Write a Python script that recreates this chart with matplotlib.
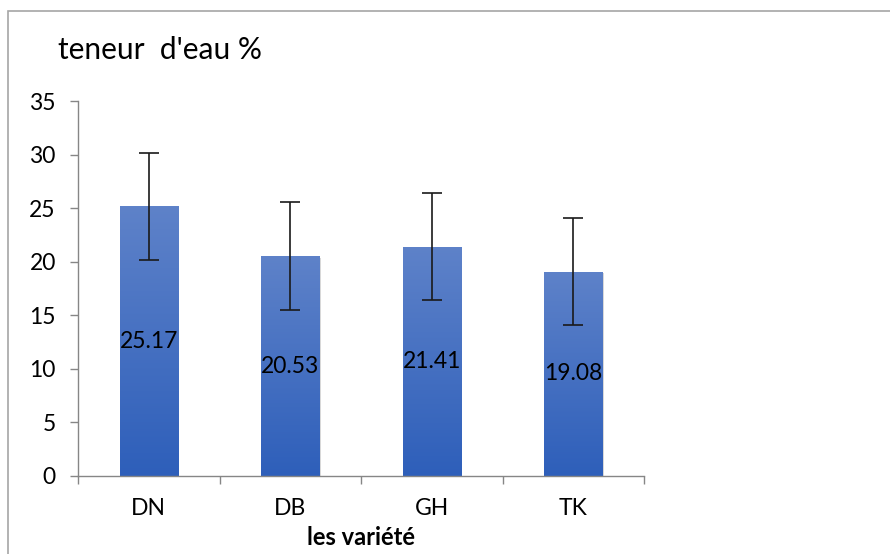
import numpy as np
import matplotlib
matplotlib.use("Agg")
import matplotlib.pyplot as plt
from matplotlib.patches import Rectangle

plt.rcParams['font.family'] = ['Lato', 'DejaVu Sans']

# --- data
varietes = ["DN", "DB", "GH", "TK"]
teneur = [25.17, 20.53, 21.41, 19.08]
erreur = [5, 5, 5, 5]

fig = plt.figure(figsize=(8.9, 5.54), dpi=100)
ax = fig.add_axes([78/890, 78/554, (644-78)/890, (476-101)/554])

x = np.arange(len(varietes))
width = 0.41
bars = ax.bar(x, teneur, width=width, color="none", edgecolor="none", zorder=2)

# gradient fill for each bar (lighter at top, darker at bottom)
grad = np.linspace(0, 1, 256).reshape(-1, 1)
cmap = matplotlib.colors.LinearSegmentedColormap.from_list(
    "bleu", ["#2E5FBA", "#5E82C9"])
for b in bars:
    x0, w, h = b.get_x(), b.get_width(), b.get_height()
    # soft shadow
    ax.add_patch(Rectangle((x0 + 0.012, -0.15), w, h, facecolor="#bfbfbf",
                           edgecolor="none", alpha=0.6, zorder=1))
    im = ax.imshow(grad, extent=[x0, x0 + w, 0, h], origin="lower",
                   cmap=cmap, aspect="auto", zorder=2)
    im.set_clip_path(b)

ax.errorbar(x, teneur, yerr=erreur, fmt="none", ecolor="#1a1a1a",
            elinewidth=1.2, capsize=7, capthick=1.2, zorder=3)

for xi, v in zip(x, teneur):
    ax.text(xi, v / 2, f"{v:.2f}", ha="center", va="center",
            fontsize=16.5, color="black", zorder=4)

ax.set_xlim(-0.5, len(varietes) - 0.5)
ax.set_ylim(0, 35)
ax.set_yticks(range(0, 36, 5))
ax.set_xticks(x)
ax.set_xticklabels(varietes)
ax.set_xticks(np.arange(-0.5, len(varietes), 1), minor=True)
ax.tick_params(axis="x", which="major", length=0, pad=16, labelsize=16.5)
ax.tick_params(axis="x", which="minor", length=6, color="#868686", width=1)
ax.tick_params(axis="y", length=6, color="#868686", width=1, labelsize=16.5, pad=10)

for s in ["top", "right"]:
    ax.spines[s].set_visible(False)
for s in ["left", "bottom"]:
    ax.spines[s].set_color("#868686")
    ax.spines[s].set_linewidth(1)

ax.set_xlabel("les variété", fontsize=17, fontweight="bold", labelpad=5)
fig.text(58/890, 1 - 50/554, "teneur  d'eau %", fontsize=21.5, va="center", ha="left")

# chart border
fig.add_artist(Rectangle((8/890, -0.05), 1.0, 1 - 11/554 + 0.05,
                         transform=fig.transFigure, fill=False,
                         edgecolor="#a6a6a6", linewidth=1.2))

fig.savefig("out.png", dpi=100)
